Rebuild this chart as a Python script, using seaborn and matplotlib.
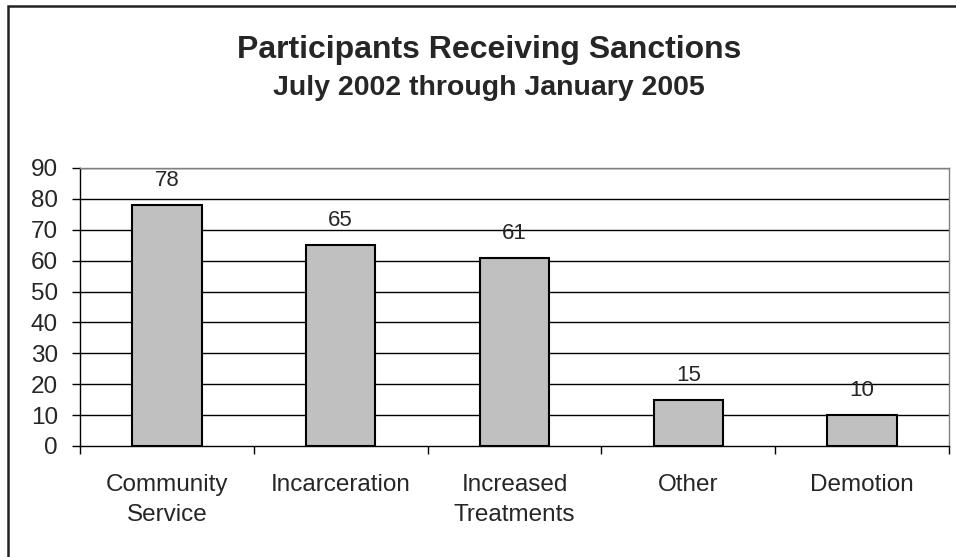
import matplotlib
matplotlib.use("Agg")
import matplotlib.pyplot as plt
import seaborn as sns
import pandas as pd
from matplotlib.patches import Rectangle
from matplotlib.ticker import FixedLocator

categories = ["Community\nService", "Incarceration", "Increased\nTreatments", "Other", "Demotion"]
participants = [78, 65, 61, 15, 10]
y_ticks = [0, 10, 20, 30, 40, 50, 60, 70, 80, 90]

sns.set_theme(style="white")
plt.rcParams["font.family"] = ["Liberation Sans", "DejaVu Sans"]

df = pd.DataFrame({"category": categories, "participants": participants})

fig = plt.figure(figsize=(9.56, 5.57), dpi=100)
ax = fig.add_axes([80 / 956, 1 - 446 / 557, 869 / 956, 278 / 557])

sns.barplot(data=df, x="category", y="participants", color="#C0C0C0",
            edgecolor="black", linewidth=1.5, width=0.4, saturation=1, ax=ax)

ax.set_ylim(0, 90)
ax.set_xlim(-0.5, len(categories) - 0.5)
ax.set_yticks(y_ticks)
ax.set_yticklabels([str(v) for v in y_ticks])
ax.set_xlabel("")
ax.set_ylabel("")

for v in y_ticks[1:]:
    ax.axhline(v, color="black", linewidth=1.0, zorder=0)

for side in ["top", "right"]:
    ax.spines[side].set_color("#808080")
    ax.spines[side].set_linewidth(1.0)
ax.spines["left"].set_color("black")
ax.spines["bottom"].set_color("black")
ax.spines["left"].set_linewidth(1.0)
ax.spines["bottom"].set_linewidth(1.0)

ax.tick_params(axis="y", which="major", direction="out", length=6, width=1.0,
               color="black", labelsize=17.5, pad=10, left=True)
ax.tick_params(axis="x", which="major", length=0, labelsize=17.5, pad=20)
ax.xaxis.set_minor_locator(FixedLocator([i - 0.5 for i in range(len(categories) + 1)]))
ax.tick_params(axis="x", which="minor", direction="out", length=6, width=1.0,
               color="black", bottom=True)
for lbl in ax.get_xticklabels():
    lbl.set_linespacing(1.5)

ax.bar_label(ax.containers[0], labels=[str(v) for v in participants],
             padding=10, fontsize=16)

fig.text(489 / 956, 1 - 58 / 557, "Participants Receiving Sanctions", ha="center",
         va="baseline", fontsize=23, fontweight="bold")
fig.text(489 / 956, 1 - 95 / 557, "July 2002 through January 2005", ha="center",
         va="baseline", fontsize=20.5, fontweight="bold")

fig.patches.append(Rectangle((7.5 / 956, -0.1), 1.2, 1 - 5.5 / 557 + 0.1,
                             transform=fig.transFigure, fill=False,
                             edgecolor="#222222", linewidth=1.8))

fig.savefig("out.png", dpi=100)
